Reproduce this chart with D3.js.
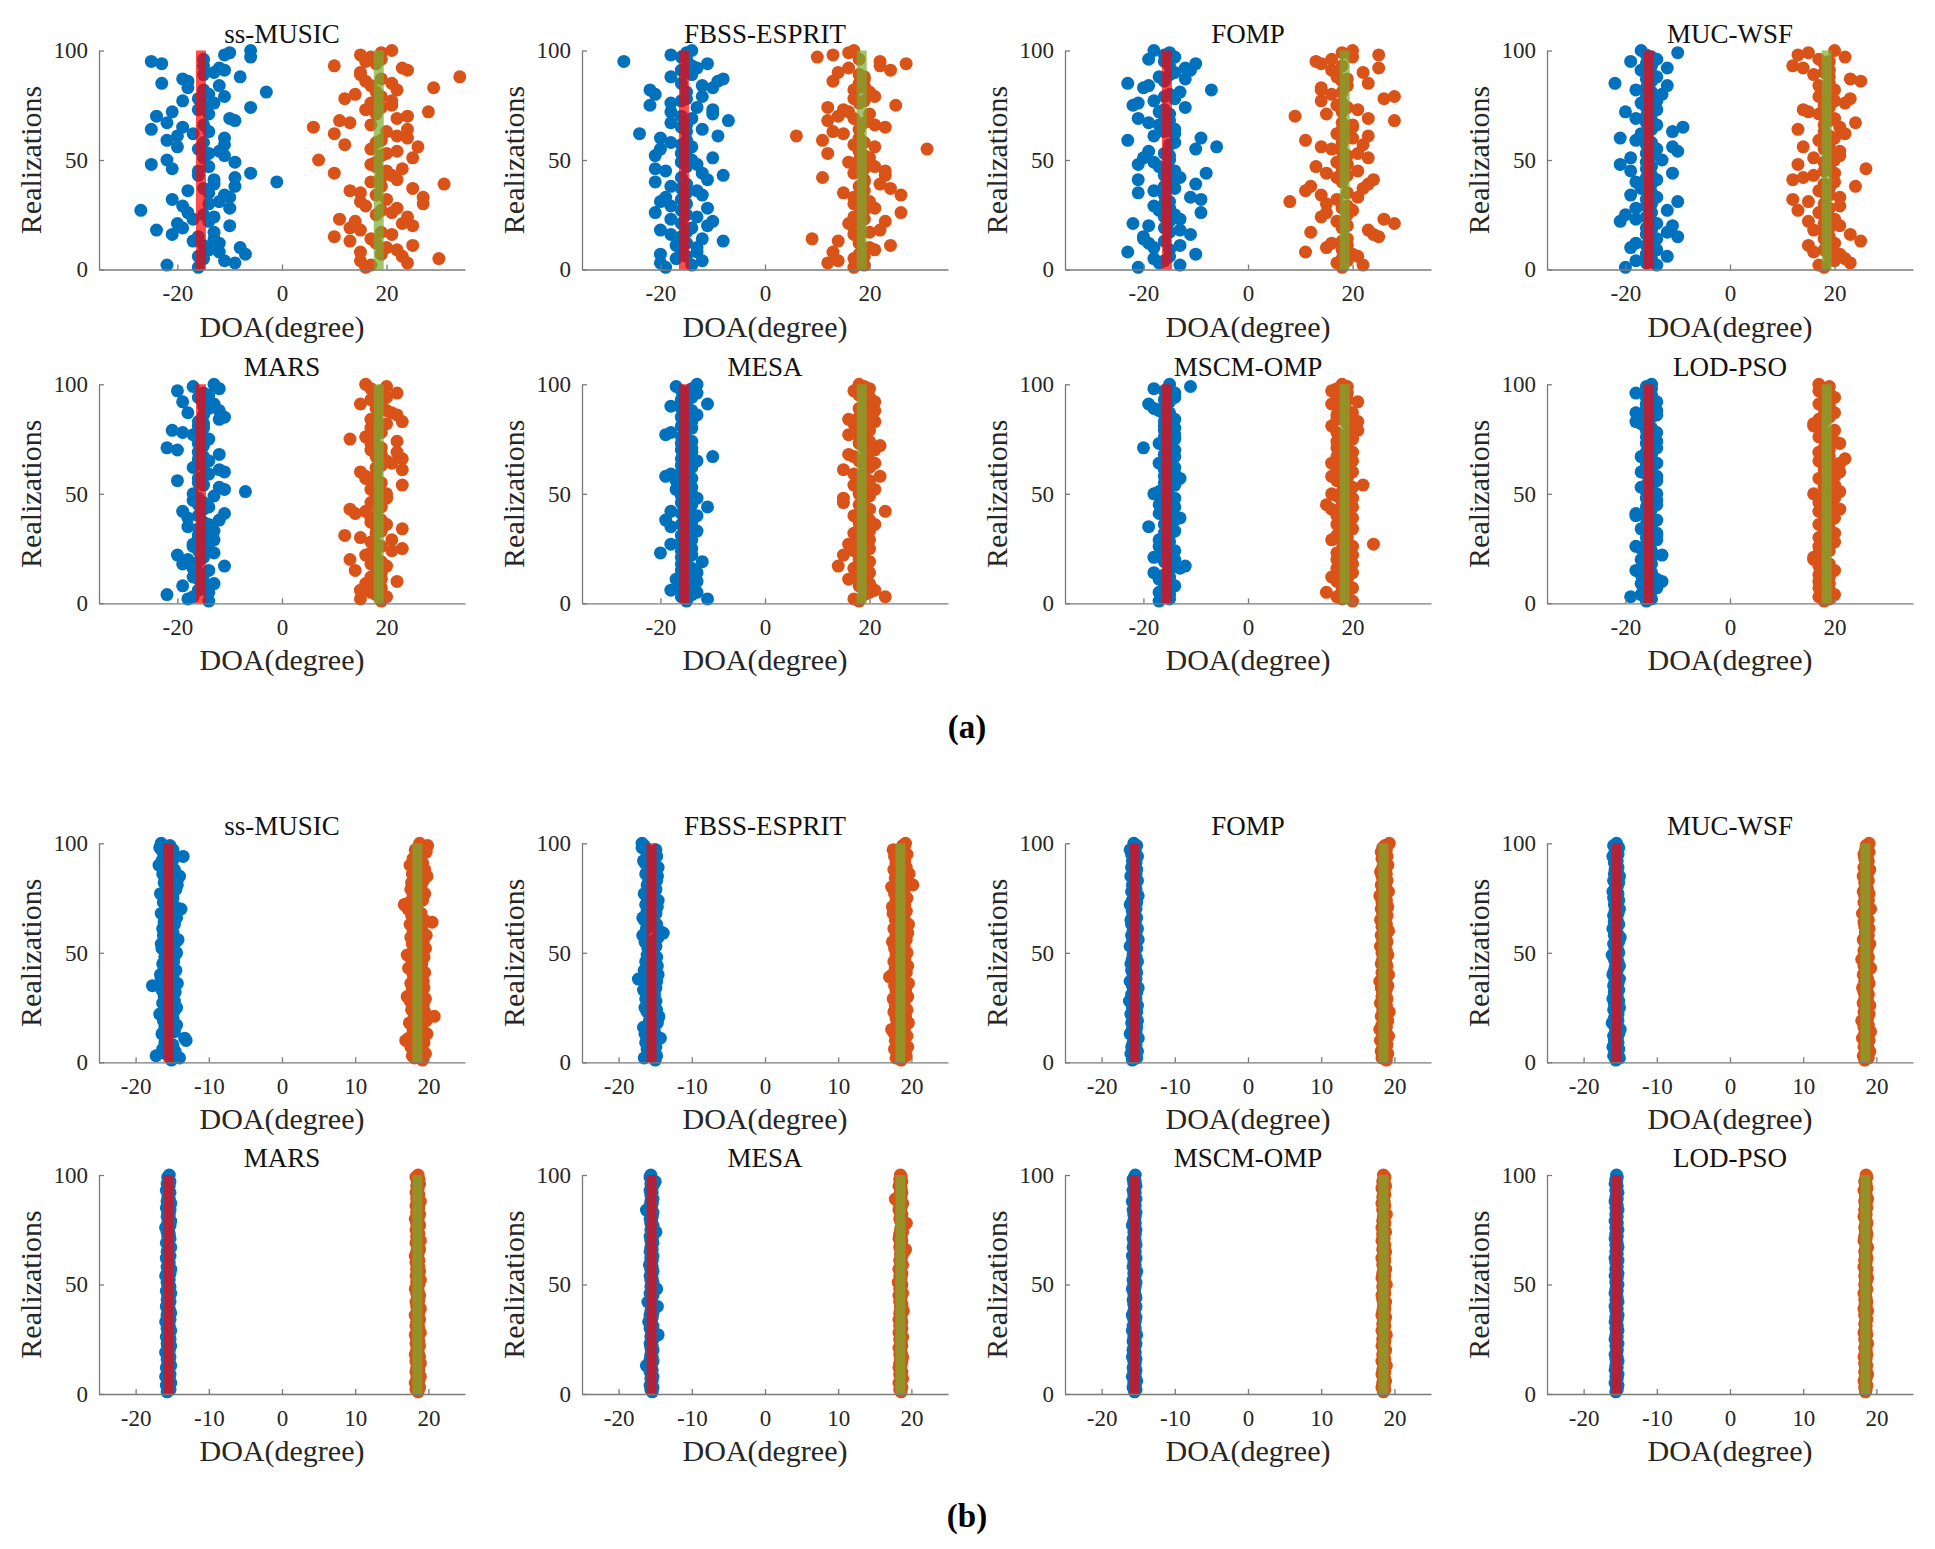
<!DOCTYPE html>
<html>
<head>
<meta charset="utf-8">
<script src="https://cdn.jsdelivr.net/npm/d3@7"></script>
<style>
body { margin: 0; background: #fff; }
text { font-family: "Liberation Serif", "Times New Roman", serif; }
</style>
</head>
<body>
<script>
// method names, one subplot each (same order in (a) and (b))
var methods = ["ss-MUSIC", "FBSS-ESPRIT", "FOMP", "MUC-WSF", "MARS", "MESA", "MSCM-OMP", "LOD-PSO"]
var trueDoa = [-15.5, 18.5]
var yTicks = [0, 50, 100]
var xTicksA = [-20, 0, 20]
var xTicksB = [-20, -10, 0, 10, 20]
var xDomainA = [-35, 35]
var xDomainB = [-25, 25]

// (a) estimates, realization 1..100, source 1 (blue) and source 2 (orange)
var aMusic1 = [-16,-22,-9,-11,-15,-16,-7,-12,-14,-8, -15,-12,-17,-13,-16,-21,-13,-24,-19,-10,
  -20,-14,-17,-13,-15,-18,-27,-10,-19,-14, -12,-21,-10,-11,-14,-18,-15,-9,-13,-1,
  -13,-9,-16,-6,-16,-21,-14,-25,-9,-22, -15,-11,-14,-12,-16,-20,-11,-15,-22,-11,
  -20,-17,-14,-25,-19,-15,-22,-9,-10,-24, -14,-21,-16,-6,-15,-13,-19,-16,-11,-14,
  -3,-15,-18,-12,-23,-18,-19,-8,-15,-13, -11,-12,-15,-23,-25,-15,-6,-11,-10,-6]
var aMusic2 = [16,17,24,15,30,23,19,15,22,20, 25,18,13,17,10,21,19,15,13,25,
  23,14,11,24,18,21,19,22,16,27, 15,20,27,18,15,13,25,19,31,17,
  22,19,21,10,20,23,18,17,18,7, 25,19,20,22,17,26,12,18,19,24,
  22,10,20,24,6,17,13,11,22,24, 18,28,16,19,21,17,21,12,19,14,
  18,22,29,17,21,16,19,34,15,15, 24,23,10,18,16,19,17,15,19,21]
var aFbss1 = [-19,-14,-20,-12,-17,-15,-20,-13,-16,-13, -17,-15,-8,-12,-16,-18,-15,-20,-14,-11,
  -16,-10,-18,-13,-15,-21,-16,-11,-18,-15, -20,-16,-19,-12,-15,-13,-16,-18,-15,-21,
  -11,-16,-8,-12,-19,-21,-15,-13,-16,-14, -10,-21,-16,-15,-20,-14,-16,-18,-15,-20,
  -9,-24,-15,-12,-16,-15,-18,-7,-14,-16, -10,-18,-10,-13,-22,-18,-16,-15,-12,-21,
  -15,-22,-10,-12,-16,-9,-8,-18,-14,-15, -16,-13,-14,-11,-27,-15,-16,-18,-15,-14]
var aFbss2 = [17,19,12,14,17,19,18,13,21,20, 24,18,14,9,18,17,20,22,17,18,
  16,23,19,17,18,26,19,21,18,17, 20,18,17,26,15,19,24,18,22,19,
  19,11,23,17,23,19,21,18,16,18, 20,19,12,18,31,21,17,19,11,18,
  6,15,13,18,23,21,19,12,17,14, 20,16,15,12,25,18,19,17,21,20,
  20,17,18,19,18,13,19,19,18,14, 24,16,22,27,22,18,10,13,16,17]
var aFomp1 = [-21,-13,-17,-16,-18,-15,-10,-23,-15,-18, -13,-19,-16,-20,-20,-11,-15,-13,-16,-19,
  -22,-15,-13,-16,-14,-9,-17,-15,-18,-16, -15,-9,-11,-16,-21,-18,-14,-16,-10,-15,
  -21,-13,-16,-8,-14,-16,-17,-21,-18,-15, -20,-15,-16,-19,-10,-6,-15,-14,-23,-9,
  -18,-14,-16,-14,-15,-17,-19,-15,-21,-16, -15,-17,-16,-12,-22,-21,-18,-14,-16,-15,
  -13,-7,-20,-19,-23,-16,-12,-17,-15,-14, -11,-12,-15,-10,-16,-19,-14,-16,-15,-18]
var aFomp2 = [18,22,17,19,18,21,20,11,18,15, 19,16,18,19,25,24,12,23,18,19,
  28,17,26,14,19,15,20,18,19,15, 8,17,21,14,19,11,22,12,23,18,
  24,17,19,15,21,18,13,19,17,18, 23,19,21,18,16,14,22,18,11,20,
  23,17,19,18,20,20,18,28,23,9, 15,18,21,19,17,18,14,26,28,16,
  18,14,14,19,23,18,19,17,17,22, 16,25,18,14,13,16,20,25,18,20]
var aMuc1 = [-20,-14,-16,-18,-15,-12,-16,-15,-14,-19, -16,-18,-15,-14,-10,-16,-12,-15,-16,-11,
  -14,-21,-18,-16,-20,-15,-12,-18,-16,-15, -10,-16,-14,-19,-15,-16,-17,-17,-15,-18,
  -14,-16,-15,-11,-19,-16,-15,-21,-16,-13, -19,-15,-16,-10,-14,-11,-16,-15,-18,-21,
  -16,-17,-11,-15,-9,-14,-16,-15,-18,-16, -15,-20,-14,-16,-15,-17,-14,-15,-16,-13,
  -15,-18,-16,-12,-22,-15,-16,-14,-15,-16, -17,-12,-15,-16,-19,-14,-15,-16,-10,-17]
var aMuc2 = [18,17,23,20,22,19,21,16,18,19, 15,20,25,18,19,23,18,16,19,21,
  18,15,20,19,18,17,13,19,21,18, 15,12,21,19,18,17,19,24,18,20,
  12,14,16,20,18,26,19,13,18,20, 16,21,19,21,18,14,19,18,17,20,
  19,22,18,13,21,18,24,19,20,18, 17,15,14,19,18,22,20,23,17,18,
  19,20,18,17,19,25,23,19,16,18, 19,14,12,18,19,17,22,13,15,20]
var aMars1 = [-14,-18,-17,-22,-14,-16,-15,-19,-13,-15, -16,-17,-15,-16,-14,-17,-11,-19,-16,-18,
  -15,-20,-13,-16,-14,-17,-17,-15,-13,-16, -16,-15,-13,-16,-18,-14,-15,-12,-18,-16,
  -11,-19,-15,-14,-16,-15,-17,-16,-13,-17, -7,-11,-12,-15,-16,-20,-16,-15,-14,-11,
  -12,-17,-15,-16,-14,-16,-15,-12,-16,-20, -22,-15,-16,-15,-14,-16,-17,-19,-21,-15,
  -16,-15,-16,-12,-11,-15,-18,-12,-14,-15, -13,-19,-15,-16,-14,-15,-20,-12,-17,-13]
var aMars2 = [19,15,20,18,17,15,19,18,16,22, 19,17,18,19,14,18,20,17,19,13,
  18,16,17,21,23,19,18,17,21,15, 12,18,19,23,18,20,17,19,17,18,
  14,16,13,19,18,17,19,20,18,20, 19,17,18,23,19,17,16,16,18,15,
  23,18,19,21,20,23,18,19,22,17, 19,18,17,22,13,16,18,19,18,17,
  18,20,23,17,18,22,21,20,18,19, 15,18,17,20,18,22,19,17,20,16]
var aMesa1 = [-15,-11,-16,-14,-13,-18,-16,-14,-15,-13, -17,-16,-15,-13,-16,-14,-15,-16,-12,-15,
  -16,-14,-20,-16,-14,-15,-18,-16,-14,-15, -16,-14,-13,-15,-18,-16,-14,-19,-15,-13,
  -16,-18,-15,-11,-14,-16,-15,-13,-16,-14, -15,-17,-14,-16,-15,-17,-14,-19,-18,-16,
  -15,-14,-16,-15,-13,-16,-10,-15,-14,-16, -14,-15,-16,-14,-15,-16,-19,-18,-15,-14,
  -16,-15,-14,-15,-16,-13,-15,-14,-16,-18, -11,-15,-16,-14,-15,-13,-16,-14,-17,-13]
var aMesa2 = [18,17,23,19,20,21,19,18,20,19, 16,18,19,20,18,17,14,19,20,18,
  19,15,18,17,20,18,16,19,20,18, 19,17,20,18,19,21,18,20,19,17,
  18,23,20,19,18,15,19,15,20,18, 19,21,18,17,19,20,18,22,17,19,
  15,20,19,21,18,19,17,16,20,21, 19,22,18,20,19,18,16,19,20,18,
  19,17,21,16,18,20,19,21,18,19, 20,21,19,20,18,19,17,20,19,18]
var aMscm1 = [-17,-15,-16,-15,-17,-15,-16,-14,-16,-15, -17,-15,-16,-18,-15,-13,-12,-15,-16,-14,
  -18,-15,-16,-14,-15,-17,-16,-15,-17,-16, -15,-16,-14,-15,-19,-16,-15,-14,-13,-16,
  -17,-15,-16,-14,-17,-15,-16,-14,-15,-18, -17,-16,-15,-14,-16,-15,-13,-16,-14,-15,
  -16,-14,-15,-17,-16,-15,-14,-16,-15,-14, -20,-16,-17,-15,-14,-16,-14,-15,-16,-14,
  -16,-15,-16,-14,-15,-16,-15,-17,-18,-16, -19,-15,-16,-14,-15,-14,-16,-18,-11,-15]
var aMscm2 = [20,18,17,19,15,18,20,19,18,17, 19,16,18,20,19,17,18,20,19,17,
  18,20,17,19,18,20,24,18,16,19, 17,18,19,20,18,17,19,18,20,17,
  19,18,16,20,15,18,19,20,17,16, 18,19,20,22,18,17,19,16,18,20,
  18,17,19,16,20,18,17,19,20,18, 17,19,18,17,20,18,19,17,21,20,
  16,19,21,17,18,17,20,19,18,17, 16,21,19,17,18,19,16,17,19,18]
var aLod1 = [-16,-15,-19,-17,-16,-15,-14,-16,-17,-13, -14,-16,-17,-15,-18,-17,-16,-15,-16,-17,
  -15,-13,-16,-15,-17,-18,-16,-15,-14,-16, -14,-14,-16,-17,-15,-16,-15,-14,-16,-18,
  -18,-16,-15,-16,-14,-15,-14,-16,-15,-14, -16,-15,-17,-16,-15,-14,-15,-14,-16,-17,
  -16,-15,-16,-14,-15,-16,-17,-15,-16,-15, -14,-15,-16,-14,-15,-16,-15,-14,-16,-15,
  -16,-17,-18,-17,-15,-14,-18,-14,-16,-15, -16,-14,-15,-16,-15,-18,-16,-15,-16,-15]
var aLod2 = [18,19,17,20,18,19,17,18,19,17, 18,19,17,18,20,18,17,19,17,16,
  16,18,17,19,18,17,18,20,18,17, 19,20,18,19,18,17,19,18,20,18,
  19,17,21,18,19,17,18,20,18,16, 21,19,18,20,19,18,17,20,19,21,
  18,20,19,21,17,22,19,18,17,19, 18,19,21,20,18,17,19,18,20,17,
  16,16,18,17,19,18,20,19,18,19, 17,18,19,20,18,19,17,18,19,17]

// (b) estimates
var bMusic1 = [-15.1,-14.0,-17.2,-15.9,-14.6,-16.3,-15.4,-14.9,-16.0,-13.1, -13.3,-15.8,-16.4,-14.7,-15.2,-16.0,-14.4,-15.6,-16.2,-14.9,
  -15.3,-16.7,-14.8,-15.9,-14.4,-15.1,-16.3,-14.7,-15.6,-16.1, -15.0,-14.6,-16.4,-15.2,-17.7,-14.3,-15.8,-16.5,-14.9,-16.6,
  -15.4,-14.5,-16.1,-15.7,-16.3,-14.8,-15.2,-16.0,-14.6,-14.4, -15.9,-16.4,-15.1,-16.5,-14.5,-14.2,-15.6,-16.2,-14.9,-15.3,
  -16.3,-15.0,-14.7,-16.1,-15.5,-14.4,-15.8,-16.5,-15.1,-13.8, -14.6,-15.9,-16.2,-15.3,-14.9,-16.0,-16.6,-15.4,-14.5,-15.7,
  -14.3,-16.1,-15.5,-14.2,-14.0,-16.3,-15.0,-14.7,-16.2,-16.8, -15.2,-16.4,-14.8,-13.5,-15.6,-16.3,-14.9,-16.7,-15.3,-16.5]
var bMusic2 = [19.2,18.1,17.8,19.6,18.5,19.0,17.6,18.8,19.4,16.9, 17.3,18.6,19.8,18.2,17.9,19.1,18.4,17.4,19.7,18.0,
  20.8,18.3,19.5,17.7,18.9,19.3,18.1,17.5,19.6,17.1, 18.4,19.0,17.8,19.4,18.7,17.6,19.3,18.2,18.8,17.9,
  19.5,18.0,17.3,18.6,19.1,18.3,17.7,19.4,17.1,18.9, 18.2,19.6,18.0,17.8,19.3,18.5,17.6,19.7,18.9,17.9,
  19.1,18.3,17.5,20.5,19.4,18.1,17.7,19.0,18.6,17.2, 18.4,16.7,17.4,19.2,18.8,17.9,19.5,18.3,17.6,19.0,
  18.5,17.7,19.3,18.2,19.8,17.8,18.9,19.5,18.1,17.5, 19.2,18.6,17.9,19.0,18.4,19.7,18.2,19.4,19.9,18.8]
var bFbss1 = [-15.0,-16.5,-14.8,-15.6,-15.2,-16.1,-14.9,-15.8,-16.3,-15.4, -14.3,-15.9,-16.4,-15.1,-16.0,-16.6,-15.3,-14.7,-15.8,-14.6,
  -14.5,-15.7,-16.1,-14.8,-16.4,-15.2,-15.9,-14.9,-16.3,-15.5, -15.1,-15.8,-16.6,-14.9,-15.4,-16.2,-14.8,-17.3,-16.0,-14.6,
  -15.3,-16.5,-15.0,-14.7,-15.9,-16.3,-15.4,-14.8,-16.1,-15.6, -15.2,-16.0,-14.9,-15.7,-16.4,-15.1,-14.6,-16.7,-13.9,-14.4,
  -16.2,-15.3,-14.8,-15.9,-16.5,-16.7,-15.2,-14.9,-16.1,-15.6, -14.7,-16.3,-15.0,-14.6,-15.8,-16.2,-16.5,-15.3,-14.9,-15.7,
  -16.1,-15.4,-14.8,-15.9,-14.7,-16.3,-15.2,-16.0,-14.6,-15.5, -16.4,-16.6,-15.1,-14.8,-15.7,-16.2,-14.9,-16.8,-16.5,-16.8]
var bFbss2 = [18.6,17.9,19.3,18.2,18.9,17.7,19.5,18.4,19.0,17.8, 18.3,19.4,18.7,17.5,17.3,19.1,18.0,19.6,18.5,17.9,
  19.2,18.1,17.6,19.4,18.8,17.8,19.0,18.3,17.5,19.5, 18.7,17.9,19.2,18.4,17.7,19.6,18.0,18.9,17.0,17.4,
  19.3,18.2,17.8,19.5,18.6,17.6,19.1,18.3,17.9,19.4, 18.5,17.7,19.0,18.2,17.4,19.3,18.8,17.9,19.5,18.1,
  17.6,19.2,19.6,18.4,17.8,19.0,18.6,17.5,19.3,18.0, 17.4,19.1,18.7,17.9,19.4,18.2,17.7,19.0,18.5,17.3,
  20.2,19.6,18.3,17.8,19.2,19.7,18.0,17.6,19.3,18.4, 17.9,19.1,18.6,17.7,19.4,18.2,17.5,19.0,18.8,19.2]
var bFomp1 = [-15.8,-15.2,-15.6,-16.0,-15.1,-15.5,-15.9,-15.3,-15.7,-15.4, -15.0,-15.6,-16.1,-15.3,-15.8,-15.2,-15.5,-15.9,-15.1,-15.7,
  -15.4,-16.0,-15.2,-15.6,-15.8,-15.1,-15.5,-16.2,-15.3,-15.7, -15.9,-15.2,-15.6,-15.0,-15.8,-15.4,-16.1,-15.3,-15.5,-15.7,
  -15.2,-15.9,-15.4,-15.6,-16.0,-15.1,-15.8,-15.3,-15.7,-15.5, -15.6,-15.2,-16.1,-15.4,-15.8,-15.0,-15.5,-15.9,-15.3,-15.7,
  -15.1,-15.6,-15.9,-15.4,-16.0,-15.2,-15.7,-15.5,-15.8,-15.3, -15.6,-16.1,-15.2,-15.8,-15.4,-15.0,-15.7,-15.9,-15.3,-15.5,
  -15.8,-15.4,-15.1,-15.6,-16.0,-15.3,-15.7,-15.2,-15.9,-15.5, -15.3,-15.8,-15.6,-15.1,-15.9,-15.4,-16.1,-15.7,-15.2,-15.6]
var bFomp2 = [18.9,18.3,18.6,19.1,18.2,18.7,18.4,19.0,18.5,18.1, 18.8,19.2,18.4,18.6,18.0,18.9,18.3,18.7,19.1,18.5,
  18.2,18.8,19.3,18.4,18.6,18.9,18.1,18.5,19.0,18.3, 18.7,18.4,18.9,18.2,19.1,18.6,18.0,18.8,18.5,19.2,
  18.3,18.7,18.5,19.0,18.2,18.8,18.4,18.6,19.1,18.3, 18.9,18.5,18.1,18.7,19.0,18.4,18.8,18.2,18.6,19.2,
  18.5,18.3,18.9,18.6,18.1,18.8,19.0,18.4,18.7,18.2, 19.1,18.6,18.3,18.9,18.5,18.0,18.7,19.2,18.4,18.8,
  18.2,18.6,19.0,18.5,18.3,18.9,18.1,18.7,18.4,19.1, 18.6,18.8,18.3,19.0,18.5,18.2,18.9,18.4,18.7,19.3]
var bMuc1 = [-15.6,-15.1,-15.9,-15.4,-15.7,-15.2,-16.0,-15.5,-15.3,-15.8, -15.4,-15.9,-15.2,-15.6,-15.0,-15.7,-15.5,-16.1,-15.3,-15.8,
  -15.7,-15.3,-15.6,-15.9,-15.1,-15.5,-15.8,-15.2,-16.0,-15.4, -15.5,-15.8,-15.2,-15.6,-15.9,-15.3,-15.7,-15.1,-15.5,-16.0,
  -15.9,-15.4,-15.7,-15.1,-15.6,-15.3,-15.8,-15.5,-16.1,-15.2, -15.3,-15.7,-15.5,-15.9,-15.2,-15.6,-15.0,-15.8,-15.4,-15.7,
  -16.0,-15.5,-15.2,-15.8,-15.4,-15.6,-15.9,-15.3,-15.7,-15.1, -15.4,-15.8,-15.6,-15.2,-15.9,-15.5,-15.3,-16.0,-15.7,-15.4,
  -15.6,-15.2,-15.9,-15.5,-15.1,-15.8,-15.4,-15.7,-15.3,-15.6, -15.8,-15.4,-15.6,-16.0,-15.3,-15.7,-15.5,-15.2,-15.9,-15.5]
var bMuc2 = [18.4,18.9,18.2,18.7,19.1,18.5,18.3,18.8,18.6,19.0, 18.1,18.7,18.4,19.2,18.6,18.3,18.9,18.5,18.0,18.8,
  18.6,19.0,18.3,18.7,18.5,19.1,18.2,18.8,18.4,18.6, 18.9,18.3,18.7,18.1,18.6,19.0,18.4,18.8,18.5,18.2,
  18.7,18.5,19.2,18.3,18.8,18.6,18.0,18.9,18.4,18.7, 18.3,18.8,18.6,19.1,18.4,18.2,18.7,18.9,18.5,18.6,
  19.0,18.4,18.7,18.3,18.9,18.5,18.6,18.1,18.8,19.2, 18.5,18.7,18.3,18.9,18.6,18.4,19.0,18.2,18.8,18.5,
  18.7,18.4,18.9,18.6,18.2,18.8,18.5,19.1,18.3,18.7, 18.6,18.9,18.4,18.7,18.3,19.0,18.5,18.8,18.6,19.0]
var bMars1 = [-15.7,-15.3,-15.5,-15.8,-15.2,-15.6,-15.4,-15.9,-15.3,-15.6, -15.5,-15.8,-15.2,-15.6,-15.4,-15.7,-15.3,-15.5,-15.9,-15.4,
  -15.6,-15.2,-15.7,-15.5,-15.3,-15.8,-15.4,-15.6,-15.2,-15.7, -15.4,-15.6,-15.9,-15.3,-15.5,-15.7,-15.2,-15.6,-15.4,-15.8,
  -15.5,-15.3,-15.7,-15.4,-15.6,-15.2,-15.8,-15.5,-15.3,-15.6, -15.7,-15.4,-15.5,-15.9,-15.3,-15.6,-15.2,-15.7,-15.5,-15.4,
  -15.6,-15.8,-15.3,-15.5,-15.7,-15.4,-15.2,-15.6,-15.8,-15.5, -15.3,-15.6,-15.4,-15.7,-15.5,-15.9,-15.3,-15.6,-15.2,-15.5,
  -15.7,-15.4,-15.6,-15.3,-15.8,-15.5,-15.2,-15.7,-15.4,-15.6, -15.5,-15.3,-15.8,-15.6,-15.4,-15.7,-15.3,-15.5,-15.6,-15.4]
var bMars2 = [18.6,18.3,18.8,18.5,18.2,18.7,18.4,18.9,18.5,18.3, 18.7,18.4,18.6,18.9,18.3,18.5,18.8,18.2,18.6,18.4,
  18.5,18.8,18.3,18.7,18.4,18.6,18.2,18.9,18.5,18.7, 18.3,18.6,18.4,18.8,18.5,18.2,18.7,18.5,18.9,18.4,
  18.6,18.3,18.7,18.5,18.8,18.4,18.6,18.2,18.5,18.7, 18.4,18.9,18.5,18.3,18.6,18.8,18.4,18.7,18.5,18.3,
  18.7,18.5,18.2,18.6,18.4,18.8,18.5,18.6,18.3,18.9, 18.5,18.4,18.7,18.6,18.3,18.5,18.8,18.4,18.6,18.2,
  18.6,18.8,18.4,18.5,18.7,18.3,18.6,18.9,18.4,18.5, 18.7,18.3,18.5,18.6,18.4,18.8,18.5,18.7,18.3,18.6]
var bMesa1 = [-15.4,-15.6,-15.3,-15.7,-15.5,-15.4,-15.6,-15.3,-15.5,-15.7, -15.4,-15.6,-16.2,-15.5,-15.3,-15.7,-15.4,-15.6,-15.5,-15.3,
  -15.6,-15.4,-15.7,-15.5,-15.3,-15.6,-14.6,-15.5,-15.4,-15.7, -15.3,-15.6,-15.9,-15.5,-15.4,-15.7,-15.3,-15.6,-15.5,-14.7,
  -15.4,-16.0,-15.6,-15.5,-15.3,-15.7,-15.4,-14.8,-15.6,-15.5, -15.3,-15.6,-15.4,-15.7,-15.5,-15.3,-15.6,-15.4,-15.8,-15.5,
  -15.4,-15.6,-15.3,-15.5,-15.7,-15.4,-15.6,-15.5,-15.3,-15.6, -15.4,-15.7,-15.5,-14.9,-15.6,-15.4,-15.3,-15.6,-15.5,-15.7,
  -15.4,-15.6,-15.3,-16.2,-15.5,-15.7,-15.4,-15.6,-15.3,-15.5, -15.6,-15.4,-15.7,-15.5,-15.3,-15.6,-15.0,-15.5,-15.7,-15.6]
var bMesa2 = [18.6,18.4,18.7,18.5,18.3,18.6,18.8,18.5,18.4,18.7, 18.5,18.3,18.6,18.4,18.7,18.5,18.8,18.4,18.6,18.5,
  18.3,18.7,18.5,18.6,18.4,18.8,18.5,18.3,18.6,18.7, 18.4,18.5,18.7,18.3,18.6,18.5,18.4,18.9,18.6,18.5,
  18.7,18.4,18.5,18.6,18.3,18.8,18.5,18.4,18.6,18.7, 18.2,18.5,18.6,18.4,18.7,18.5,18.3,18.6,18.8,18.5,
  18.4,18.6,18.7,18.5,19.0,19.2,18.4,18.6,18.5,18.7, 18.3,18.6,18.4,18.8,18.5,18.6,19.0,19.3,18.5,18.4,
  18.6,18.7,18.5,18.3,18.6,18.4,18.8,18.5,17.8,18.6, 18.4,18.7,18.5,18.6,18.3,18.5,18.7,18.4,18.6,18.5]
var bMscm1 = [-15.5,-15.3,-15.7,-15.4,-15.6,-15.2,-15.5,-15.8,-15.4,-15.6, -15.3,-15.7,-15.5,-15.4,-15.6,-15.3,-15.8,-15.5,-15.4,-15.7,
  -15.6,-15.4,-15.3,-15.7,-15.5,-15.6,-15.2,-15.5,-15.8,-15.4, -15.7,-15.5,-15.4,-15.6,-15.3,-15.8,-15.5,-15.6,-15.4,-15.3,
  -15.6,-15.5,-15.7,-15.3,-15.4,-15.6,-15.5,-15.8,-15.4,-15.6, -15.3,-15.7,-15.5,-15.4,-15.6,-15.2,-15.5,-15.7,-15.4,-15.6,
  -15.5,-15.3,-15.8,-15.6,-15.4,-15.5,-15.7,-15.3,-15.6,-15.4, -15.7,-15.5,-15.4,-15.6,-15.3,-15.5,-15.8,-15.4,-15.6,-15.5,
  -15.4,-15.6,-15.3,-15.7,-15.5,-15.4,-15.6,-15.8,-15.3,-15.5, -15.6,-15.4,-15.7,-15.5,-15.3,-15.6,-15.4,-15.7,-15.5,-15.4]
var bMscm2 = [18.5,18.7,18.3,18.6,18.4,18.8,18.5,18.6,18.3,18.7, 18.4,18.6,18.9,18.5,18.3,18.7,18.5,18.4,18.6,18.8,
  18.5,18.3,18.6,18.7,18.4,18.5,18.9,18.6,18.3,18.5, 18.7,18.4,18.6,18.5,18.8,18.3,18.6,18.4,18.7,18.5,
  18.6,18.8,18.4,18.5,18.3,18.7,18.6,18.5,18.4,18.9, 18.5,18.6,18.3,18.7,18.4,18.5,18.8,18.6,18.4,18.5,
  18.7,18.3,18.6,18.5,18.8,18.4,18.6,18.7,18.5,18.3, 18.6,18.5,18.4,18.8,18.6,18.3,18.5,18.7,18.4,18.6,
  18.5,18.9,18.6,18.4,18.5,18.7,18.3,18.6,18.5,18.4, 18.7,18.5,18.6,18.3,18.8,18.5,18.4,18.6,18.7,18.5]
var bLod1 = [-15.6,-15.4,-15.5,-15.3,-15.7,-15.5,-15.4,-15.6,-15.3,-15.5, -15.7,-15.4,-15.6,-15.5,-15.3,-15.6,-15.4,-15.7,-15.5,-15.4,
  -15.5,-15.6,-15.3,-15.5,-15.7,-15.4,-15.6,-15.5,-15.3,-15.6, -15.4,-15.5,-15.7,-15.4,-15.6,-15.3,-15.5,-15.6,-15.4,-15.7,
  -15.5,-15.3,-15.6,-15.4,-15.5,-15.7,-15.4,-15.6,-15.5,-15.3, -15.6,-15.5,-15.4,-15.7,-15.3,-15.5,-15.6,-15.4,-15.5,-15.6,
  -15.3,-15.7,-15.5,-15.4,-15.6,-15.5,-15.3,-15.6,-15.4,-15.5, -15.7,-15.4,-15.6,-15.5,-15.3,-15.6,-15.5,-15.4,-15.7,-15.5,
  -15.4,-15.6,-15.5,-15.3,-15.6,-15.4,-15.5,-15.7,-15.4,-15.6, -15.5,-15.3,-15.6,-15.5,-15.4,-15.7,-15.5,-15.6,-15.4,-15.5]
var bLod2 = [18.5,18.6,18.4,18.7,18.5,18.3,18.6,18.5,18.8,18.4, 18.6,18.5,18.7,18.4,18.5,18.6,18.3,18.7,18.5,18.6,
  18.4,18.5,18.8,18.6,18.4,18.5,18.7,18.3,18.6,18.5, 18.6,18.4,18.5,18.7,18.6,18.4,18.5,18.8,18.3,18.6,
  18.5,18.7,18.4,18.6,18.5,18.3,18.6,18.7,18.5,18.4, 18.6,18.5,18.8,18.4,18.6,18.5,18.7,18.3,18.5,18.6,
  18.4,18.7,18.5,18.6,18.4,18.5,18.8,18.6,18.5,18.3, 18.6,18.4,18.7,18.5,18.6,18.4,18.5,18.7,18.6,18.5,
  18.3,18.6,18.5,18.4,18.7,18.5,18.6,18.4,18.8,18.5, 18.6,18.5,18.3,18.7,18.5,18.6,18.4,18.5,18.7,18.6]

var groupA = [[aMusic1, aMusic2], [aFbss1, aFbss2], [aFomp1, aFomp2], [aMuc1, aMuc2],
  [aMars1, aMars2], [aMesa1, aMesa2], [aMscm1, aMscm2], [aLod1, aLod2]]
var groupB = [[bMusic1, bMusic2], [bFbss1, bFbss2], [bFomp1, bFomp2], [bMuc1, bMuc2],
  [bMars1, bMars2], [bMesa1, bMesa2], [bMscm1, bMscm2], [bLod1, bLod2]]

var srcColors = ["#0072BD", "#D95319"]
var trueColors = ["#FF0000", "#77AC30"]

var svg = d3.select("body")
  .append("svg")
  .attr("width", 1935)
  .attr("height", 1549)

var colLeft = [99, 582, 1065, 1547]
var rowTop = [50.5, 384.3, 843.3, 1175]
var pw = 366, ph = 219

function panel(row, col, title, est, domain, ticks) {
  var left = colLeft[col], top = rowTop[row]
  var x = d3.scaleLinear().domain(domain).range([left, left + pw])
  var y = d3.scaleLinear().domain([0, 100]).range([top + ph, top])
  var g = svg.append("g")

  // estimates of both sources, one dot per realization
  est.forEach(function (s, k) {
    g.append("g").selectAll("circle")
      .data(s)
      .enter()
      .append("circle")
      .attr("cx", function (d) { return x(d) })
      .attr("cy", function (d, i) { return y(i + 1) })
      .attr("r", 6.5)
      .attr("fill", srcColors[k])
  })

  // true directions as wide translucent bars
  g.selectAll(".truth")
    .data(trueDoa)
    .enter()
    .append("line")
    .attr("x1", function (d) { return x(d) })
    .attr("x2", function (d) { return x(d) })
    .attr("y1", y(0))
    .attr("y2", y(100))
    .attr("stroke", function (d, i) { return trueColors[i] })
    .attr("stroke-opacity", 0.7)
    .attr("stroke-width", 10)

  var xa = g.append("g")
    .attr("transform", "translate(0," + y(0) + ")")
    .call(d3.axisBottom(x).tickValues(ticks).tickSize(-5).tickSizeOuter(0)
      .tickPadding(15.5).tickFormat(function (d) { return String(d) }))
  var ya = g.append("g")
    .attr("transform", "translate(" + left + ",0)")
    .call(d3.axisLeft(y).tickValues(yTicks).tickSize(-5).tickSizeOuter(0)
      .tickPadding(11).tickFormat(function (d) { return String(d) }))
  ;[xa, ya].forEach(function (a) {
    a.attr("font-family", null).attr("font-size", 23)
    a.selectAll("path, line").attr("stroke", "#7a7a7a").attr("stroke-width", 1.3)
    a.selectAll("text").attr("fill", "#262626")
  })

  var cx = left + pw / 2
  g.append("text").attr("x", cx).attr("y", top - 8)
    .attr("text-anchor", "middle").attr("font-size", 27).attr("fill", "#111")
    .text(title)
  g.append("text").attr("x", cx).attr("y", top + ph + 67)
    .attr("text-anchor", "middle").attr("font-size", 30).attr("fill", "#262626")
    .text("DOA(degree)")
  g.append("text")
    .attr("transform", "translate(" + (left - 58) + "," + (top + ph / 2) + ") rotate(-90)")
    .attr("text-anchor", "middle").attr("font-size", 30).attr("fill", "#262626")
    .text("Realizations")
}

methods.forEach(function (m, i) {
  panel(Math.floor(i / 4), i % 4, m, groupA[i], xDomainA, xTicksA)
  panel(2 + Math.floor(i / 4), i % 4, m, groupB[i], xDomainB, xTicksB)
})

svg.append("text").attr("x", 967).attr("y", 738)
  .attr("text-anchor", "middle").attr("font-size", 33).attr("font-weight", "bold")
  .text("(a)")
svg.append("text").attr("x", 967).attr("y", 1527)
  .attr("text-anchor", "middle").attr("font-size", 33).attr("font-weight", "bold")
  .text("(b)")
</script>
</body>
</html>
